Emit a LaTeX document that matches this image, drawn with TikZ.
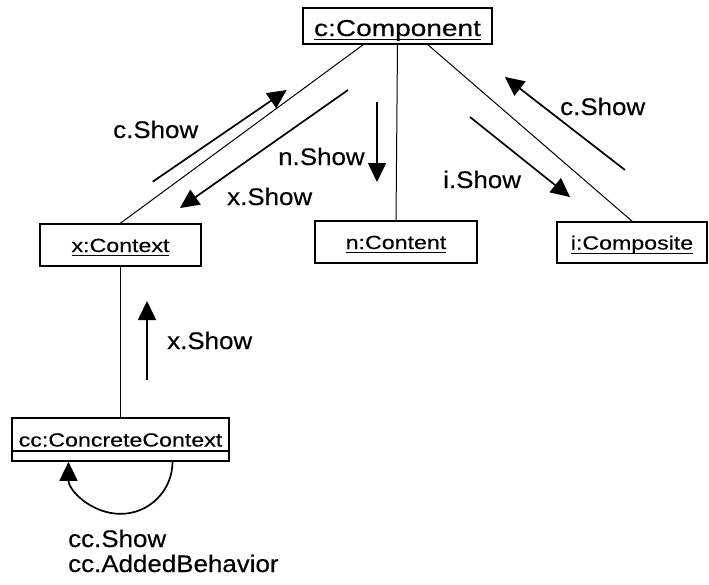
\documentclass[tikz,border=0pt]{standalone}
\usepackage{fontspec}
\setmainfont{Liberation Sans}
\newfontfamily\boxfont[FakeStretch=1.22,FakeBold=0.3]{Liberation Sans}
\newfontfamily\lblfont[FakeStretch=1.08,FakeBold=0.3]{Liberation Sans}
\usetikzlibrary{arrows.meta}
\newcommand\ulbox[1]{\setbox0\hbox{#1}\rlap{\rule[-4.2pt]{\wd0}{1.2pt}}\box0}
\begin{document}
\begin{tikzpicture}[x=1pt,y=-1pt,
  obj/.style={draw, line width=1.7pt, inner sep=0pt, text height=14pt, text depth=0pt,
    font=\boxfont\fontsize{19}{21}\selectfont},
  link/.style={line width=1pt},
  msg/.style={line width=1.7pt, -{Triangle[length=19pt,width=18pt]}},
  lbl/.style={anchor=base west, inner sep=0pt, font=\lblfont\fontsize{24}{28}\selectfont}]
\useasboundingbox (0,0) rectangle (709,584);
% objects
\node[obj, minimum width=189pt, minimum height=36pt, text height=20pt,
  font=\boxfont\fontsize{23}{25}\selectfont] (comp) at (397.5,26) {\ulbox{c:Component}};
\node[obj, minimum width=161pt, minimum height=42pt] (ctx) at (120.5,245) {\ulbox{x:Context}};
\node[obj, minimum width=162pt, minimum height=42pt] (cont) at (396,242) {\ulbox{n:Content}};
\node[obj, minimum width=150pt, minimum height=41pt] (compo) at (632,242.5) {\ulbox{i:Composite}};
\node[obj, minimum width=217pt, minimum height=43pt] (cc) at (120.5,439.5) {\ulbox{cc:ConcreteContext}};
\draw[line width=1.5pt] ([yshift=11pt]cc.south west) -- ([yshift=11pt]cc.south east);
% links
\draw[link] ([xshift=-34.5pt]comp.south) -- (ctx.north);
\draw[link] (comp.south) -- (cont.north);
\draw[link] ([xshift=30.5pt]comp.south) -- (compo.north);
\draw[link] (ctx.south) -- (cc.north);
% message arrows
\coordinate (a1s) at (152.7,181.7); \coordinate (a1e) at (286.7,90);
\coordinate (a2s) at (348,90);      \coordinate (a2e) at (180,208);
\coordinate (a3s) at (377,102);     \coordinate (a3e) at (377,182);
\coordinate (a4s) at (625,170);     \coordinate (a4e) at (505,77);
\coordinate (a5s) at (470,117);     \coordinate (a5e) at (570,197);
\coordinate (a6s) at (147,380);     \coordinate (a6e) at (147,301);
\draw[msg] (a1s) -- (a1e);
\draw[msg] (a2s) -- (a2e);
\draw[msg] (a3s) -- (a3e);
\draw[msg] (a4s) -- (a4e);
\draw[msg] (a5s) -- (a5e);
\draw[msg] (a6s) -- (a6e);
\draw[msg] ([xshift=52pt]cc.south) arc[start angle=0, end angle=-180, radius=52pt];
% labels
\node[lbl] (l1) at (113,138) {c.Show};
\node[lbl] (l2) at (227,205) {x.Show};
\node[lbl] (l3) at (278,165) {n.Show};
\node[lbl] (l4) at (560,115) {c.Show};
\node[lbl] (l5) at (443,188) {i.Show};
\node[lbl] (l6) at (167,349) {x.Show};
\node[lbl] (l7) at (68,547) {cc.Show};
\node[lbl] (l8) at (68,572) {cc.AddedBehavior};
\end{tikzpicture}
\end{document}
